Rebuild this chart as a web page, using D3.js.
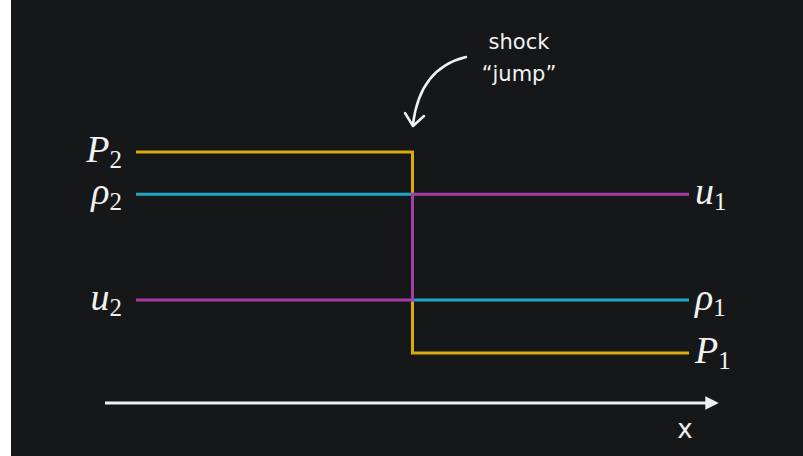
<!DOCTYPE html>
<html><head><meta charset="utf-8">
<script src="https://cdn.jsdelivr.net/npm/d3@7"></script>
<style>body{margin:0;background:#fff;}svg{display:block;}</style>
</head><body>
<script>
// Data
const positions = [0, 0.5, 0.5, 1];          // x positions (shock at 0.5)
const pressure = [1.0, 1.0, 0.0, 0.0];        // P2 -> P1
const density  = [0.79, 0.79, 0.264, 0.264];  // rho2 -> rho1
const velocity = [0.264, 0.264, 0.79, 0.79];  // u2 -> u1
const seriesNames = ["P", "ρ", "u"];
const leftSubs = ["2", "2", "2"];
const rightSubs = ["1", "1", "1"];
const colors = ["#dcaa0c", "#1da6c8", "#a63ca6"];
const annotation = ["shock", "\u201cjump\u201d"];
const axisLabel = "x";

const W = 803, H = 456;
const svg = d3.select("body").append("svg").attr("width", W).attr("height", H);
svg.append("rect").attr("x", 0).attr("y", 0).attr("width", W).attr("height", H).attr("fill", "#ffffff");
svg.append("rect").attr("x", 11).attr("y", 0).attr("width", W - 11).attr("height", H).attr("fill", "#151719");

const x = d3.scaleLinear().domain([0, 1]).range([136, 689]);
const y = d3.scaleLinear().domain([0, 1]).range([353, 152]);

const series = [pressure, density, velocity];
const line = d3.line().x((d, i) => x(positions[i])).y(d => y(d)).curve(d3.curveLinear);

series.forEach((vals, k) => {
  svg.append("path").attr("d", line(vals)).attr("fill", "none")
    .attr("stroke", colors[k]).attr("stroke-width", 3).attr("stroke-linejoin", "miter");
});

// labels
const mathFont = "'Liberation Serif', 'Times New Roman', serif";
function label(xp, yp, name, sub, anchor) {
  const t = svg.append("text").attr("x", xp).attr("y", yp).attr("text-anchor", anchor)
    .attr("fill", "#f2f2f2").attr("font-family", mathFont);
  t.append("tspan").attr("font-style", "italic").attr("font-size", 38).text(name);
  t.append("tspan").attr("font-size", 25).attr("dy", 6).attr("dx", 0).text(sub);
}
series.forEach((vals, k) => {
  label(x(0) - 14, y(vals[0]) + 10, seriesNames[k], leftSubs[k], "end");
  label(x(1) + 6, y(vals[vals.length - 1]) + 10, seriesNames[k], rightSubs[k], "start");
});

// x axis arrow
const defs = svg.append("defs");
defs.append("marker").attr("id", "ah").attr("viewBox", "0 0 10 10").attr("refX", 2).attr("refY", 5)
  .attr("markerWidth", 4.5).attr("markerHeight", 4.5).attr("orient", "auto")
  .append("path").attr("d", "M0,0 L10,5 L0,10 Z").attr("fill", "#f0f0f0");
const xa = d3.scaleLinear().domain([0, 1]).range([105, 708]);
svg.append("line").attr("x1", xa(0)).attr("x2", xa(1)).attr("y1", 403).attr("y2", 403)
  .attr("stroke", "#f0f0f0").attr("stroke-width", 3).attr("marker-end", "url(#ah)");
svg.append("text").attr("x", 685).attr("y", 438).attr("text-anchor", "middle")
  .attr("fill", "#f2f2f2").attr("font-family", "'DejaVu Sans', sans-serif").attr("font-size", 26)
  .attr("font-weight", "normal").text(axisLabel);

// annotation
annotation.forEach((s, i) => {
  svg.append("text").attr("x", 519).attr("y", 49 + i * 32).attr("text-anchor", "middle")
    .attr("fill", "#f2f2f2").attr("font-family", "'DejaVu Sans', sans-serif").attr("font-size", 21)
    .text(s);
});
svg.append("path").attr("d", "M466,57 Q420,68 413,124").attr("fill", "none")
  .attr("stroke", "#f0f0f0").attr("stroke-width", 2.5).attr("stroke-linecap", "round");
svg.append("path").attr("d", "M405,113 L413,126 L424,116").attr("fill", "none")
  .attr("stroke", "#f0f0f0").attr("stroke-width", 2.5).attr("stroke-linecap", "round").attr("stroke-linejoin", "round");
</script>
</body></html>
